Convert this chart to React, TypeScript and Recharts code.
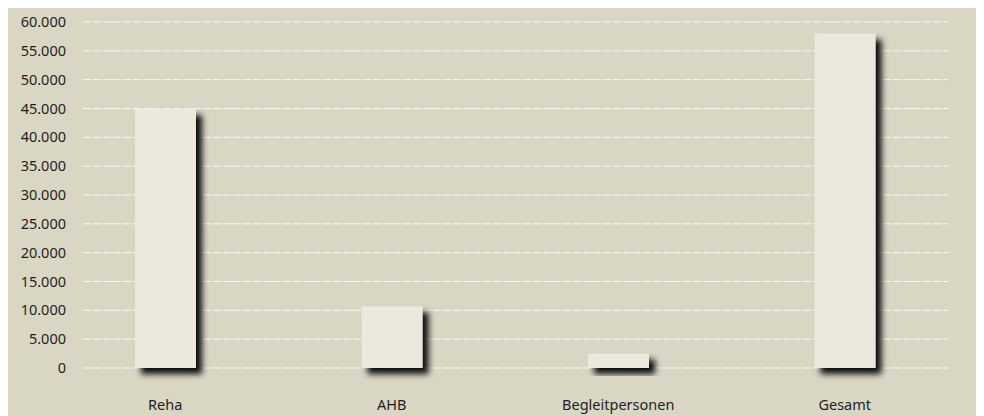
import React from 'react';
import { BarChart, Bar, XAxis, YAxis, CartesianGrid } from 'recharts';

const categories = ['Reha', 'AHB', 'Begleitpersonen', 'Gesamt'];
const values = [44900, 10700, 2500, 58000];
const yTicks = [0, 5000, 10000, 15000, 20000, 25000, 30000, 35000, 40000, 45000, 50000, 55000, 60000];

const data = categories.map((name, i) => ({ name, value: values[i] }));

const fmt = (v: number) => String(v).replace(/\B(?=(\d{3})+(?!\d))/g, '.');

const font = '"Noto Sans", "DejaVu Sans", sans-serif';

// y labels sit inside the plot area, right-aligned
const YTick = ({ x, y, payload }: any) => (
  <text x={x + 22} y={y} dy={5} textAnchor="end" fontSize={14.5} fill="#1e1e1e" fontFamily={font}>
    {fmt(payload.value)}
  </text>
);

// grid starts right of the labels and stops short of the panel edge
const GridLine = (p: any) => (
  <line
    x1={p.x1 + 31} x2={p.x2 - 10} y1={p.y1} y2={p.y2}
    stroke="#ffffff" strokeOpacity={0.85} strokeWidth={1} strokeDasharray="8 2"
  />
);

const ShadowBar = (p: any) => (
  <rect x={p.x} y={p.y} width={p.width} height={p.height} fill="#ebe9dd" filter="url(#barShadow)" />
);

export default function App() {
  return (
    <div style={{ width: 973, height: 409, background: '#d9d6c4', marginTop: -1 }}>
      <BarChart
        width={973}
        height={409}
        data={data}
        margin={{ top: 15, right: 23, left: 0, bottom: 0 }}
      >
        <defs>
          <filter id="barShadow" x="-30%" y="-30%" width="180%" height="180%">
            <feDropShadow dx={6} dy={6} stdDeviation={3} floodColor="#000" floodOpacity={0.95} />
          </filter>
        </defs>
        <CartesianGrid vertical={false} horizontal={GridLine} />
        <YAxis
          width={44}
          domain={[0, 60000]}
          ticks={yTicks}
          axisLine={false}
          tickLine={false}
          tick={<YTick />}
          interval={0}
        />
        <XAxis
          dataKey="name"
          axisLine={false}
          tickLine={false}
          height={48}
          tickMargin={26}
          tick={{ fontSize: 14.5, fill: '#1e1e1e', fontFamily: font }}
        />
        <Bar dataKey="value" barSize={61} shape={<ShadowBar />} isAnimationActive={false} />
      </BarChart>
    </div>
  );
}
